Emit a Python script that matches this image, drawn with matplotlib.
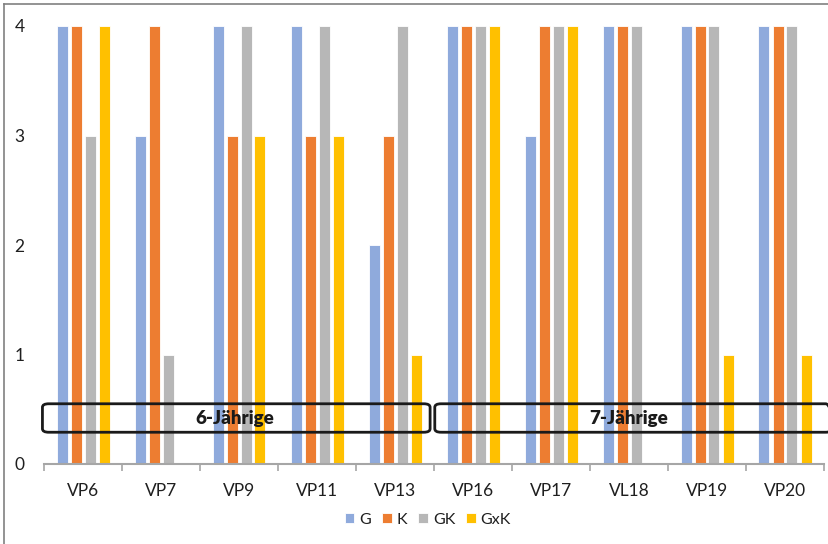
import matplotlib
matplotlib.use("Agg")
import matplotlib.pyplot as plt
import numpy as np
from matplotlib.patches import FancyBboxPatch
from matplotlib.lines import Line2D

# Participants and coded scores per condition
participants = ["VP6", "VP7", "VP9", "VP11", "VP13", "VP16", "VP17", "VL18", "VP19", "VP20"]
series_names = ["G", "K", "GK", "GxK"]
g_vals = [4, 3, 4, 4, 2, 4, 3, 4, 4, 4]
k_vals = [4, 4, 3, 3, 3, 4, 4, 4, 4, 4]
gk_vals = [3, 1, 4, 4, 4, 4, 4, 4, 4, 4]
gxk_vals = [4, 0, 3, 3, 1, 4, 4, 0, 1, 1]
y_ticks = [0, 1, 2, 3, 4]
age_groups = ["6-Jährige", "7-Jährige"]

colors = ["#8faadc", "#ed7d31", "#b7b7b7", "#ffc000"]

plt.rcParams["font.family"] = ["Lato", "DejaVu Sans"]

fig = plt.figure(figsize=(8.29, 5.44), dpi=100)
ax = fig.add_axes([44 / 829, 1 - 464 / 544, 780 / 829, (464 - 26) / 544])

x = np.arange(len(participants))
bar_w = 11 / 78
step = 14 / 78
all_vals = [g_vals, k_vals, gk_vals, gxk_vals]
for i, (vals, name, c) in enumerate(zip(all_vals, series_names, colors)):
    offs = (i - 1.5) * step
    ax.bar(x + offs, vals, width=bar_w, color=c, label=name,
           edgecolor="white", linewidth=0.6, zorder=2)

ax.set_xlim(-0.5, len(participants) - 0.5)
ax.set_ylim(0, 4)
ax.set_yticks(y_ticks)
ax.set_yticklabels([str(v) for v in y_ticks], fontsize=12.5, color="#1f1f1f")
ax.tick_params(axis="y", length=0, pad=14)
ax.set_xticks(x)
ax.set_xticklabels(participants, fontsize=12.5, color="#1f1f1f")
ax.tick_params(axis="x", length=0, pad=14)
ax.set_xticks(np.arange(-0.5, len(participants)), minor=True)
ax.tick_params(axis="x", which="minor", length=5, color="#a6a6a6", width=1.2)

for s in ["top", "right", "left"]:
    ax.spines[s].set_visible(False)
ax.spines["bottom"].set_color("#a6a6a6")
ax.spines["bottom"].set_linewidth(1.5)

# Rounded frames marking the two age groups
box_y0, box_y1 = 0.29, 0.55
spans = [(-0.52, 4.45), (4.51, 9.6)]
label_x = [1.95, 7.0]
for (x0, x1), label, tx in zip(spans, age_groups, label_x):
    box = FancyBboxPatch((x0, box_y0), x1 - x0, box_y1 - box_y0,
                         boxstyle="round,pad=0,rounding_size=0.08",
                         mutation_aspect=0.4,
                         facecolor="none", edgecolor="#1a1a1a",
                         linewidth=2, zorder=4, clip_on=False)
    ax.add_patch(box)
    ax.text(tx, (box_y0 + box_y1) / 2, label, ha="center", va="center",
            fontsize=13.5, fontweight="heavy", color="#1a1a1a", zorder=5)

leg = fig.legend(loc="center", bbox_to_anchor=(428 / 829, 1 - 520 / 544),
                 ncol=4, frameon=False, fontsize=11.5, handlelength=0.6,
                 handleheight=0.6, handletextpad=0.3, columnspacing=0.7)
for t in leg.get_texts():
    t.set_color("#1f1f1f")

# Outer chart frame (left and top edges)
fig.add_artist(Line2D([4 / 829, 4 / 829], [0, 1 - 4 / 544],
                      transform=fig.transFigure, color="#808080", linewidth=1.2))
fig.add_artist(Line2D([4 / 829, 1], [1 - 4 / 544, 1 - 4 / 544],
                      transform=fig.transFigure, color="#808080", linewidth=1.2))

fig.savefig("out.png", dpi=100)
